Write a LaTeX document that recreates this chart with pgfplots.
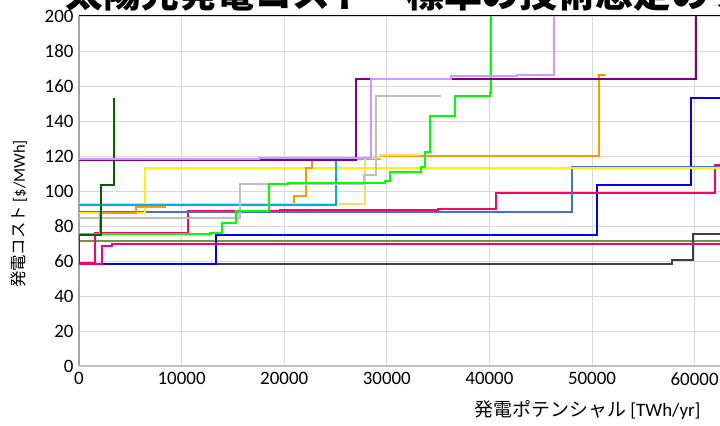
\documentclass[border=0pt]{standalone}
\usepackage{fontspec}
\usepackage{pgfplots}
\pgfplotsset{compat=1.18}
\setmainfont{Carlito}
\newfontfamily\cjk{Noto Sans CJK JP}

\definecolor{dkgreen}{HTML}{006400}
\definecolor{olive}{HTML}{77933C}
\definecolor{dkgray}{HTML}{404040}
\definecolor{hotpink}{HTML}{FF0066}
\definecolor{steel}{HTML}{4472C4}
\definecolor{orng}{HTML}{FF9900}
\definecolor{wheat}{HTML}{FFD966}
\definecolor{ltgray}{HTML}{BFBFBF}
\definecolor{purp}{HTML}{800080}
\definecolor{lavender}{HTML}{CC99FF}
\definecolor{gridgray}{HTML}{D9D9D9}
\definecolor{axgray}{HTML}{A6A6A6}

\begin{document}
\begin{tikzpicture}
\begin{axis}[
  width=718.2bp, height=350bp, scale only axis,
  xmin=0, xmax=70000, ymin=0, ymax=200,
  xtick={0,10000,...,70000}, ytick={0,20,...,200},
  grid=major, grid style={gridgray, line width=0.9bp},
  major tick length=0pt,
  axis line style={draw=none},
  clip mode=individual,
  scaled x ticks=false,
  /pgf/number format/1000 sep={},
  /pgf/number format/assume math mode=true,
  ticklabel style={font=\fontsize{19}{22}\selectfont},
  xticklabel style={yshift=-3bp},
  yticklabel style={xshift=-2bp},
  every axis plot/.append style={line width=2bp, line join=miter},
]
\draw[axgray, line width=1.4bp] (axis cs:0,0) -- (axis cs:0,200);
\draw[ltgray, line width=1.2bp] (axis cs:0,0) -- (axis cs:70000,0);

% olive
\addplot[olive] coordinates {(0,71.5) (63000,71.5)};
% dark gray
\addplot[dkgray] coordinates {(0,58) (57800,58) (57800,60.7) (59800,60.7) (59800,75.4) (63000,75.4)};
% blue
\addplot[blue] coordinates {(0,58) (13400,58) (13400,74.7) (50450,74.7) (50450,103.4) (59600,103.4) (59600,153) (63000,153)};
% magenta
\addplot[magenta] coordinates {(0,58) (2240,58) (2240,68.5) (3200,68.5) (3200,69.5) (63000,69.5)};
% hot pink
\addplot[hotpink] coordinates {(0,58.8) (1560,58.8) (1560,76.2) (10650,76.2) (10650,88.7) (19600,88.7) (19600,89.3) (35000,89.3) (35000,89.7) (40600,89.7) (40600,99) (62000,99) (62000,114.9) (63000,114.9)};
% steel blue
\addplot[steel] coordinates {(0,87.8) (48050,87.8) (48050,113.5) (63000,113.5)};
% yellow
\addplot[yellow] coordinates {(0,87.2) (6430,87.2) (6430,112.9) (63000,112.9)};
% orange
\addplot[orng] coordinates {(0,64.6) (0,75) (2000,75) (2000,87.2) (5600,87.2) (5600,91) (8400,91) (8400,92.8) (21000,92.8) (21000,97) (22100,97) (22100,113) (22700,113) (22700,118.5) (29300,118.5) (29300,120.2) (50700,120.2) (50700,166.5) (51400,166.5)};
% wheat
\addplot[wheat] coordinates {(0,92.6) (27900,92.6) (27900,119) (29300,119) (29300,120.4) (33200,120.4)};
% cyan
\addplot[cyan] coordinates {(0,92.2) (25050,92.2) (25050,118.3)};
% light gray
\addplot[ltgray] coordinates {(0,84.4) (15700,84.4) (15700,104) (27800,104) (27800,109) (28900,109) (28900,154) (35300,154)};
% green
\addplot[green] coordinates {(0,60) (0,75.2) (12800,75.2) (12800,75.8) (13900,75.8) (13900,81.5) (15300,81.5) (15300,88.5) (18500,88.5) (18500,103.8) (20400,103.8) (20400,104.3) (27200,104.3) (27200,104.8) (29800,104.8) (29800,105.5) (30300,105.5) (30300,111) (33300,111) (33300,113.5) (33700,113.5) (33700,122) (34200,122) (34200,143) (36600,143) (36600,154) (40100,154) (40100,156) (40200,156) (40200,200)};
% dark green
\addplot[dkgreen] coordinates {(0,58) (0,75) (2100,75) (2100,103.5) (3400,103.5) (3400,153)};
% purple
\addplot[purp] coordinates {(0,117.8) (27000,117.8) (27000,164) (60100,164) (60100,200)};
% lavender
\addplot[lavender] coordinates {(0,118.2) (17500,118.2) (17500,118.7) (28500,118.7) (28500,164) (36250,164) (36250,165.5) (42650,165.5) (42650,166.5) (46250,166.5) (46250,200)};

\draw[black, line width=1bp] (axis cs:0,200) -- (axis cs:70000,200);
\end{axis}
\node[anchor=base west, font=\cjk\bfseries\fontsize{38}{40}\selectfont] at (-17bp,358bp) {太陽光発電コスト－標準の技術想定のケース};
\node[rotate=90, font=\fontsize{16.5}{18}\selectfont] at (-60bp,152bp) {{\cjk 発電コスト} [\$/MWh]};
\node[anchor=east, font=\fontsize{19}{22}\selectfont] at (625bp,-44bp) {{\cjk 発電ポテンシャル} [TWh/yr]};
\pgfresetboundingbox
\useasboundingbox (-79bp,-60bp) rectangle (641bp,366bp);
\end{tikzpicture}
\end{document}
